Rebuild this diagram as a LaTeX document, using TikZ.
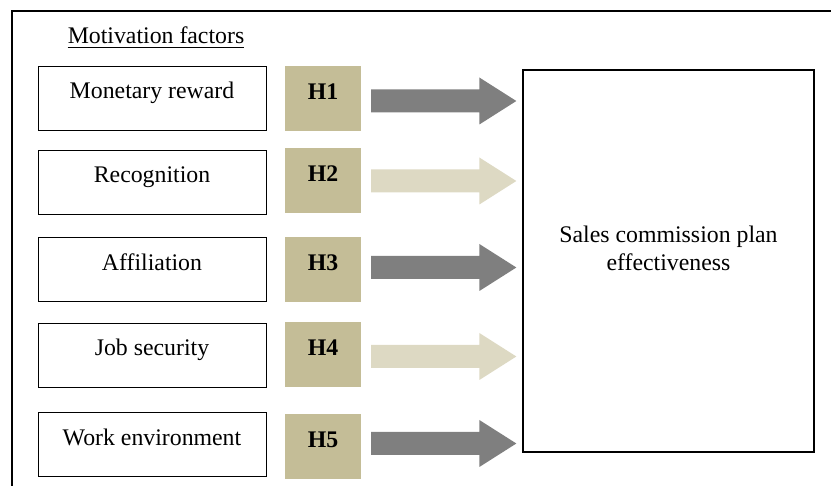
\documentclass[tikz,border=0pt]{standalone}
\usepackage{fontspec}
\setmainfont{Liberation Serif}
\usetikzlibrary{calc}
\definecolor{hypfill}{HTML}{C4BD97}
\definecolor{darkarrow}{HTML}{7F7F7F}
\definecolor{lightarrow}{HTML}{DDD9C3}
\begin{document}
\begin{tikzpicture}[x=1pt,y=-1pt,
  font=\fontsize{23.8}{28}\selectfont,
  factor/.style={draw, line width=0.9pt, minimum width=228pt, minimum height=64pt, inner sep=0pt, text height=12pt, text depth=10pt},
  hyp/.style={fill=hypfill, minimum width=76pt, minimum height=65pt, inner sep=0pt, font=\fontsize{23.8}{28}\selectfont\bfseries, text height=12pt, text depth=10pt},
  outcome/.style={draw, line width=1.3pt, minimum width=291pt, minimum height=382pt, inner sep=0pt},
  blockarrow/.style={to path={let \p1=(\tikztostart), \p2=(\tikztotarget) in
    (\x1,\y1+11.5pt) -- (\x2-37pt,\y1+11.5pt) -- (\x2-37pt,\y1+23.5pt) -- (\x2,\y1)
    -- (\x2-37pt,\y1-23.5pt) -- (\x2-37pt,\y1-11.5pt) -- (\x1,\y1-11.5pt) -- cycle}}]
\useasboundingbox (0,0) rectangle (831,486);
% outer frame
\coordinate (fbl) at (12,487);
\coordinate (ftl) at (12,11);
\coordinate (ftr) at (832,11);
\draw[line width=1.3pt] (fbl) -- (ftl) -- (ftr);
% heading
\node[inner sep=0pt, anchor=base] (mf) at (156,44) {Motivation factors};
\draw[line width=0.9pt] ([yshift=-3pt]mf.base west) -- ([yshift=-3pt]mf.base east);
% factors
\node[factor] (f1) at (152,98) {Monetary reward};
\node[factor] (f2) at (152,182) {Recognition};
\node[factor] (f3) at (152,269.5) {Affiliation};
\node[factor] (f4) at (152,355) {Job security};
\node[factor] (f5) at (152,444.5) {Work environment};
% hypotheses
\node[hyp] (h1) at (323,98.5) {H1};
\node[hyp] (h2) at (323,180.5) {H2};
\node[hyp] (h3) at (323,269.5) {H3};
\node[hyp] (h4) at (323,355) {H4};
\node[hyp] (h5) at (323,446.5) {H5};
% outcome
\node[outcome] (big) at (668.5,261) {};
\node[align=center, inner sep=0pt] (bigtext) at (668.5,248.5) {Sales commission plan\\effectiveness};
% arrows
\fill[darkarrow]  ([xshift=10pt,yshift=-2.5pt]h1.east) to[blockarrow] ($(h1.east -| big.west)+(-6,0)$);
\fill[lightarrow] ([xshift=10pt,yshift=-0.5pt]h2.east) to[blockarrow] ($(h2.east -| big.west)+(-6,0)$);
\fill[darkarrow]  ([xshift=10pt,yshift=2pt]h3.east) to[blockarrow] ($(h3.east -| big.west)+(-6,0)$);
\fill[lightarrow] ([xshift=10pt,yshift=-1.5pt]h4.east) to[blockarrow] ($(h4.east -| big.west)+(-6,0)$);
\fill[darkarrow]  ([xshift=10pt,yshift=3pt]h5.east) to[blockarrow] ($(h5.east -| big.west)+(-6,0)$);
\end{tikzpicture}
\end{document}
